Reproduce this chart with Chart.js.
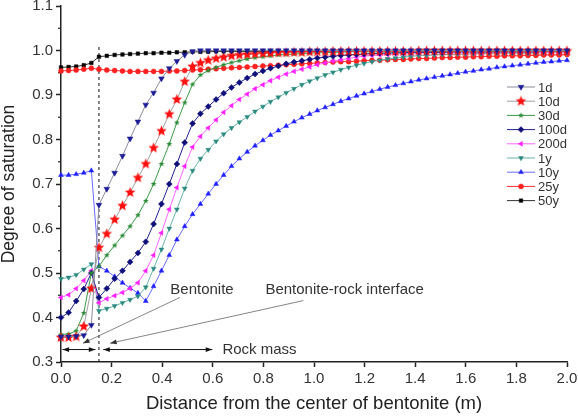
<!DOCTYPE html>
<html>
<head>
<meta charset="utf-8">
<script src="https://cdn.jsdelivr.net/npm/chart.js@4.4.1/dist/chart.umd.min.js"></script>
<style>
  html, body { margin: 0; padding: 0; background: #fff; }
  #wrap { width: 578px; height: 418px; }
</style>
</head>
<body>
<div id="wrap"><canvas id="myChart" width="578" height="418"></canvas></div>
<script>
// distance from the bentonite centre (m): bentonite 0-0.15, rock mass beyond
var distance = [0, 0.03, 0.06, 0.09, 0.12,
  0.15, 0.181, 0.212, 0.243, 0.273, 0.304, 0.335, 0.366, 0.397, 0.428,
  0.458, 0.489, 0.52, 0.551, 0.582, 0.613, 0.643, 0.674, 0.705, 0.736,
  0.767, 0.798, 0.828, 0.859, 0.89, 0.921, 0.952, 0.983, 1.013, 1.044,
  1.075, 1.106, 1.137, 1.168, 1.198, 1.229, 1.26, 1.291, 1.322, 1.353,
  1.383, 1.414, 1.445, 1.476, 1.507, 1.538, 1.568, 1.599, 1.63, 1.661,
  1.692, 1.723, 1.753, 1.784, 1.815, 1.846, 1.877, 1.908, 1.938, 1.969, 2.0];

var seriesNames = ["1d", "10d", "30d", "100d", "200d", "1y", "10y", "25y", "50y"];

var sat1d = [0.357, 0.357, 0.358, 0.36, 0.383,
  0.653, 0.689, 0.725, 0.763, 0.802, 0.84, 0.878, 0.905, 0.937, 0.96,
  0.976, 0.99, 0.998, 1, 1, 1, 1, 1, 1, 1,
  1, 1, 1, 1, 1, 1, 1, 1, 1, 1,
  1, 1, 1, 1, 1, 1, 1, 1, 1, 1,
  1, 1, 1, 1, 1, 1, 1, 1, 1, 1,
  1, 1, 1, 1, 1, 1, 1, 1, 1, 1, 1];
var sat10d = [0.355, 0.355, 0.357, 0.38, 0.465,
  0.557, 0.588, 0.62, 0.651, 0.681, 0.714, 0.745, 0.781, 0.819, 0.857,
  0.89, 0.93, 0.964, 0.972, 0.978, 0.982, 0.985, 0.988, 0.99, 0.991,
  0.992, 0.993, 0.994, 0.995, 0.995, 0.996, 0.996, 0.997, 0.997, 0.997,
  0.998, 0.998, 0.998, 0.998, 0.998, 0.998, 0.998, 0.998, 0.998, 0.998,
  0.998, 0.999, 0.999, 0.999, 0.999, 0.999, 0.999, 0.999, 0.999, 0.999,
  0.999, 0.999, 0.999, 0.999, 0.999, 0.999, 0.999, 0.999, 0.999, 0.999, 0.999];
var sat30d = [0.362, 0.363, 0.37, 0.41, 0.5,
  0.515, 0.54, 0.562, 0.584, 0.605, 0.63, 0.662, 0.7, 0.745, 0.79,
  0.838, 0.883, 0.924, 0.945, 0.955, 0.962, 0.968, 0.973, 0.977, 0.981,
  0.984, 0.986, 0.988, 0.99, 0.991, 0.992, 0.993, 0.994, 0.995, 0.995,
  0.996, 0.996, 0.997, 0.997, 0.997, 0.997, 0.997, 0.997, 0.997, 0.997,
  0.997, 0.998, 0.998, 0.998, 0.998, 0.998, 0.998, 0.998, 0.998, 0.998,
  0.998, 0.998, 0.998, 0.998, 0.998, 0.998, 0.998, 0.998, 0.998, 0.998, 0.998];
var sat100d = [0.4, 0.411, 0.437, 0.464, 0.5,
  0.445, 0.465, 0.487, 0.505, 0.525, 0.545, 0.57, 0.61, 0.655, 0.7,
  0.745, 0.793, 0.836, 0.858, 0.874, 0.89, 0.904, 0.917, 0.928, 0.938,
  0.947, 0.954, 0.96, 0.965, 0.97, 0.974, 0.977, 0.98, 0.983, 0.985,
  0.987, 0.989, 0.99, 0.991, 0.992, 0.993, 0.994, 0.994, 0.995, 0.995,
  0.996, 0.996, 0.996, 0.996, 0.996, 0.997, 0.997, 0.997, 0.997, 0.997,
  0.997, 0.997, 0.997, 0.997, 0.997, 0.997, 0.997, 0.998, 0.998, 0.998, 0.998];
var sat200d = [0.445, 0.451, 0.465, 0.483, 0.505,
  0.433, 0.442, 0.449, 0.456, 0.465, 0.478, 0.505, 0.54, 0.59, 0.643,
  0.692, 0.74, 0.783, 0.807, 0.826, 0.844, 0.861, 0.876, 0.89, 0.902,
  0.914, 0.923, 0.932, 0.94, 0.947, 0.953, 0.958, 0.963, 0.968, 0.972,
  0.976, 0.979, 0.982, 0.985, 0.987, 0.989, 0.99, 0.991, 0.992, 0.993,
  0.994, 0.994, 0.995, 0.995, 0.995, 0.995, 0.995, 0.995, 0.995, 0.995,
  0.996, 0.996, 0.996, 0.996, 0.996, 0.996, 0.996, 0.996, 0.996, 0.996, 0.996];
var sat1y = [0.487, 0.49, 0.496, 0.508, 0.52,
  0.415, 0.42, 0.426, 0.433, 0.44, 0.448, 0.468, 0.51, 0.553, 0.6,
  0.643, 0.69, 0.73, 0.757, 0.777, 0.796, 0.812, 0.826, 0.839, 0.851,
  0.863, 0.874, 0.885, 0.895, 0.905, 0.914, 0.923, 0.931, 0.938, 0.945,
  0.951, 0.957, 0.962, 0.967, 0.971, 0.975, 0.978, 0.981, 0.983, 0.985,
  0.987, 0.988, 0.989, 0.99, 0.991, 0.991, 0.992, 0.992, 0.993, 0.993,
  0.994, 0.994, 0.994, 0.994, 0.994, 0.994, 0.994, 0.995, 0.995, 0.995, 0.995];
var sat10y = [0.72, 0.72, 0.722, 0.725, 0.73,
  0.515, 0.505, 0.492, 0.478, 0.466, 0.455, 0.437, 0.47, 0.505, 0.54,
  0.575, 0.605, 0.632, 0.655, 0.678, 0.7, 0.72, 0.74, 0.757, 0.772,
  0.786, 0.798, 0.81, 0.82, 0.83, 0.84, 0.849, 0.857, 0.865, 0.872,
  0.879, 0.886, 0.892, 0.898, 0.903, 0.908, 0.913, 0.918, 0.922, 0.926,
  0.93, 0.934, 0.937, 0.94, 0.943, 0.946, 0.949, 0.952, 0.954, 0.957,
  0.959, 0.962, 0.964, 0.966, 0.968, 0.97, 0.972, 0.974, 0.975, 0.977, 0.978];
var sat25y = [0.954, 0.955, 0.956, 0.958, 0.96,
  0.958, 0.956, 0.955, 0.954, 0.953, 0.953, 0.953, 0.953, 0.953, 0.954,
  0.954, 0.955, 0.956, 0.957, 0.958, 0.959, 0.96, 0.961, 0.962, 0.963,
  0.964, 0.965, 0.966, 0.967, 0.968, 0.969, 0.97, 0.971, 0.972, 0.973,
  0.974, 0.975, 0.975, 0.976, 0.977, 0.978, 0.978, 0.979, 0.98, 0.98,
  0.981, 0.982, 0.982, 0.983, 0.984, 0.984, 0.985, 0.985, 0.986, 0.986,
  0.987, 0.987, 0.988, 0.988, 0.988, 0.989, 0.989, 0.99, 0.99, 0.99, 0.991];
var sat50y = [0.962, 0.963, 0.964, 0.967, 0.972,
  0.986, 0.988, 0.99, 0.991, 0.992, 0.993, 0.994, 0.994, 0.995, 0.995,
  0.996, 0.996, 0.997, 0.997, 0.997, 0.998, 0.998, 0.998, 0.998, 0.998,
  0.998, 0.998, 0.998, 0.998, 0.998, 0.998, 0.998, 0.998, 0.998, 0.998,
  0.998, 0.998, 0.998, 0.998, 0.998, 0.998, 0.998, 0.998, 0.998, 0.998,
  0.998, 0.998, 0.998, 0.998, 0.998, 0.998, 0.998, 0.998, 0.998, 0.998,
  0.998, 0.998, 0.998, 0.998, 0.998, 0.998, 0.998, 0.998, 0.998, 0.998, 0.998];

var xTicks = [0, 0.2, 0.4, 0.6, 0.8, 1.0, 1.2, 1.4, 1.6, 1.8, 2.0];
var yTicks = [0.3, 0.4, 0.5, 0.6, 0.7, 0.8, 0.9, 1.0, 1.1];

var interfaceDistance = 0.15;

var FONT = "'Liberation Sans', Arial, sans-serif";

function makeStar(color, r) {
  var s = Math.ceil(r * 2 + 2);
  var c = document.createElement("canvas");
  c.width = s;
  c.height = s;
  var g = c.getContext("2d");
  g.fillStyle = color;
  g.beginPath();
  for (var i = 0; i < 10; i++) {
    var rad = i % 2 === 0 ? r : r * 0.45;
    var a = -Math.PI / 2 + (i * Math.PI) / 5;
    var px = s / 2 + rad * Math.cos(a);
    var py = s / 2 + rad * Math.sin(a);
    if (i === 0) g.moveTo(px, py);
    else g.lineTo(px, py);
  }
  g.closePath();
  g.fill();
  return c;
}

function toPoints(values) {
  return values.map(function (v, i) {
    return { x: distance[i], y: v };
  });
}

function series(label, values, line, marker, style, radius, rotation) {
  return {
    label: label,
    data: toPoints(values),
    borderColor: line,
    borderWidth: 1,
    backgroundColor: marker,
    pointBackgroundColor: marker,
    pointBorderColor: marker,
    pointBorderWidth: 0.5,
    pointStyle: style,
    pointRadius: radius,
    pointRotation: rotation || 0,
    tension: 0,
    clip: false,
  };
}

function arrowHead(ctx, x1, y1, x2, y2, size) {
  var a = Math.atan2(y2 - y1, x2 - x1);
  ctx.beginPath();
  ctx.moveTo(x2, y2);
  ctx.lineTo(x2 - size * Math.cos(a - 0.35), y2 - size * Math.sin(a - 0.35));
  ctx.lineTo(x2 - size * Math.cos(a + 0.35), y2 - size * Math.sin(a + 0.35));
  ctx.closePath();
  ctx.fill();
}

var overlay = {
  id: "overlay",
  beforeDatasetsDraw: function (chart) {
    var ctx = chart.ctx;
    var xs = chart.scales.x;
    var ys = chart.scales.y;
    var X = function (v) { return xs.getPixelForValue(v); };
    var Y = function (v) { return ys.getPixelForValue(v); };
    ctx.save();

    // minor ticks on y
    ctx.strokeStyle = "#222";
    ctx.lineWidth = 1.2;
    for (var i = 0; i < yTicks.length - 1; i++) {
      var m = Y((yTicks[i] + yTicks[i + 1]) / 2);
      ctx.beginPath();
      ctx.moveTo(xs.left - 3, m);
      ctx.lineTo(xs.left, m);
      ctx.stroke();
    }

    // bentonite / rock interface
    ctx.strokeStyle = "#111";
    ctx.lineWidth = 1;
    ctx.setLineDash([3, 3]);
    ctx.beginPath();
    ctx.moveTo(X(interfaceDistance), Y(0.3));
    ctx.lineTo(X(interfaceDistance), Y(1.008));
    ctx.stroke();
    ctx.setLineDash([]);

    // span arrows
    ctx.fillStyle = "#111";
    var yb = Y(0.328);
    var spans = [[0.006, 0.136], [0.167, 0.598]];
    spans.forEach(function (s) {
      ctx.beginPath();
      ctx.moveTo(X(s[0]), yb);
      ctx.lineTo(X(s[1]), yb);
      ctx.stroke();
      arrowHead(ctx, X(s[1]), yb, X(s[0]), yb, 7);
      arrowHead(ctx, X(s[0]), yb, X(s[1]), yb, 7);
    });

    // pointer lines
    ctx.strokeStyle = "#666";
    ctx.fillStyle = "#333";
    ctx.lineWidth = 0.8;
    var pointers = [[0.47, 0.445, 0.087, 0.342], [0.958, 0.438, 0.194, 0.342]];
    pointers.forEach(function (p) {
      ctx.beginPath();
      ctx.moveTo(X(p[0]), Y(p[1]));
      ctx.lineTo(X(p[2]), Y(p[3]));
      ctx.stroke();
      arrowHead(ctx, X(p[0]), Y(p[1]), X(p[2]), Y(p[3]), 7);
    });

    ctx.fillStyle = "#333";
    ctx.font = "15px " + FONT;
    ctx.textAlign = "left";
    ctx.textBaseline = "middle";
    ctx.fillText("Bentonite", X(0.432), Y(0.462));
    ctx.fillText("Bentonite-rock interface", X(0.808), Y(0.462));
    ctx.fillText("Rock mass", X(0.638), Y(0.328));
    ctx.restore();
  },
  afterDatasetsDraw: function (chart) {
    var ctx = chart.ctx;
    ctx.save();
    ctx.font = "13px " + FONT;
    ctx.textAlign = "left";
    ctx.textBaseline = "middle";
    chart.data.datasets.forEach(function (ds, i) {
      var y = 87 + i * 14.2;
      ctx.strokeStyle = ds.borderColor;
      ctx.lineWidth = 1;
      ctx.beginPath();
      ctx.moveTo(507, y);
      ctx.lineTo(535, y);
      ctx.stroke();
      ctx.fillStyle = ds.pointBackgroundColor;
      ctx.strokeStyle = ds.pointBorderColor;
      ctx.lineWidth = 0.5;
      Chart.helpers.drawPoint(ctx, {
        pointStyle: ds.pointStyle,
        rotation: ds.pointRotation,
        radius: ds.pointRadius,
        borderWidth: 0.5,
      }, 521, y);
      ctx.fillStyle = "#333";
      ctx.fillText(ds.label, 538, y + 1);
    });
    ctx.restore();
  },
};

var ctx = document.getElementById("myChart").getContext("2d");
var chart = new Chart(ctx, {
  type: "line",
  data: {
    datasets: [
      series(seriesNames[0], sat1d, "#8c8c9c", "#1c1c96", "triangle", 3.3, 180),
      series(seriesNames[1], sat10d, "#a0a0a0", "#ff1010", makeStar("#ff1010", 5.5), 5.5),
      series(seriesNames[2], sat30d, "#3c9a48", "#2a8a36", makeStar("#2a8a36", 3), 3),
      series(seriesNames[3], sat100d, "#202090", "#10107a", "rectRot", 3),
      series(seriesNames[4], sat200d, "#ff66ff", "#ff20ff", "triangle", 2.8, -90),
      series(seriesNames[5], sat1y, "#6ab4aa", "#2a8a80", "triangle", 2.8, 180),
      series(seriesNames[6], sat10y, "#6a6aff", "#2020ff", "triangle", 2.8, 0),
      series(seriesNames[7], sat25y, "#ff3030", "#ff2020", "circle", 2.5),
      series(seriesNames[8], sat50y, "#333333", "#000000", "rect", 2.5),
    ],
  },
  options: {
    responsive: false,
    animation: false,
    devicePixelRatio: 1,
    layout: { padding: { top: 3, right: 11, left: 0, bottom: 0 } },
    plugins: { legend: { display: false }, tooltip: { enabled: false } },
    scales: {
      x: {
        type: "linear",
        min: 0,
        max: 2,
        afterBuildTicks: function (scale) {
          scale.ticks = xTicks.map(function (v) { return { value: v }; });
        },
        ticks: {
          callback: function (v) { return v.toFixed(1); },
          font: { family: FONT, size: 15 },
          color: "#333",
          padding: 3,
          maxRotation: 0,
          autoSkip: false,
        },
        grid: { drawOnChartArea: false, tickLength: 5, tickColor: "#222", tickWidth: 1.5 },
        border: { color: "#222", width: 1.5 },
        title: {
          display: true,
          text: "Distance from the center of bentonite (m)",
          font: { family: FONT, size: 18.5, lineHeight: 1 },
          color: "#222",
          padding: { top: 0, bottom: 5 },
        },
        afterFit: function (scale) {
          scale.height = 56;
          scale.paddingLeft = 0;
          scale.paddingRight = 0;
        },
      },
      y: {
        type: "linear",
        min: 0.3,
        max: 1.1,
        afterBuildTicks: function (scale) {
          scale.ticks = yTicks.map(function (v) { return { value: v }; });
        },
        ticks: {
          callback: function (v) { return v.toFixed(1); },
          font: { family: FONT, size: 15 },
          color: "#333",
          padding: 3,
        },
        grid: { drawOnChartArea: false, tickLength: 5, tickColor: "#222", tickWidth: 1.5 },
        border: { color: "#222", width: 1.5 },
        title: {
          display: true,
          text: "Degree of saturation",
          font: { family: FONT, size: 17.5, lineHeight: 1 },
          color: "#222",
          padding: { top: 0, bottom: 0 },
        },
        afterFit: function (scale) {
          scale.width = 61;
          scale.paddingTop = 0;
          scale.paddingBottom = 0;
        },
      },
    },
  },
  plugins: [overlay],
});
</script>
</body>
</html>
